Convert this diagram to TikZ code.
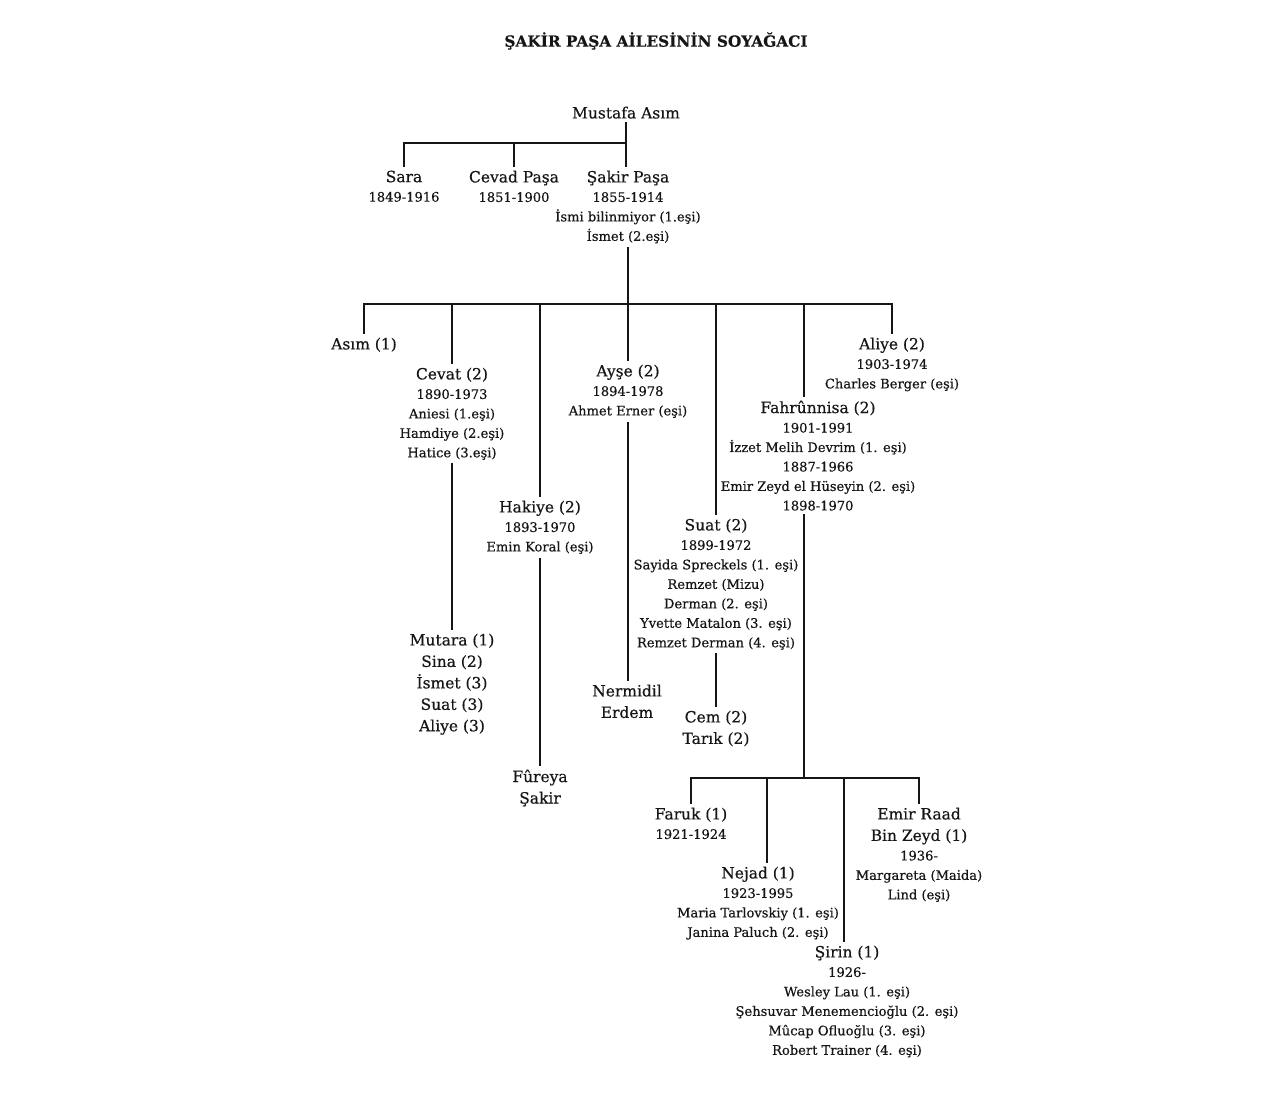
\documentclass[tikz,border=0pt]{standalone}
\usepackage{fontspec}
\setmainfont{DejaVu Serif}[FakeBold=0.5]
\definecolor{ink}{RGB}{22,22,22}
\newcommand{\smallfont}{\fontsize{9.8}{14.6}\selectfont}
\newcommand{\namefont}{\fontsize{11.6}{16.1}\selectfont}
\newcommand{\nm}[1]{{\namefont #1}}
\tikzset{soy/.style={x=0.75pt,y=-0.75pt,line width=1.5pt,draw=ink,text=ink},
  person/.style={anchor=north,align=center,inner sep=2pt,font=\smallfont},
  names/.style={person,font=\namefont}}

\begin{document}
\begin{tikzpicture}[soy]
  \useasboundingbox (0,0) rectangle (1280,1095);
  \node[font=\bfseries\fontsize{11.5}{14}\selectfont] (title) at (656,41) {ŞAKİR PAŞA AİLESİNİN SOYAĞACI};
  % Mustafa Asim and children
  \node[person] (mustafa) at (626,103) {\nm{Mustafa Asım}};
  \node[person] (sara) at (404,167) {\nm{Sara}\\1849-1916};
  \node[person] (cevad) at (514,167) {\nm{Cevad Paşa}\\1851-1900};
  \node[person] (sakir) at (628,167) {\nm{Şakir Paşa}\\1855-1914\\İsmi bilinmiyor (1.eşi)\\İsmet (2.eşi)};
  \coordinate (barM) at (627,143);
  \draw (mustafa.south) -- (mustafa.south |- sakir.north);
  \draw (sara.north) |- (barM);
  \draw (cevad.north) -- (cevad.north |- barM);
  % Sakir Pasa's children
  \node[person] (asim) at (364,334) {\nm{Asım (1)}};
  \node[person] (cevat) at (452,364) {\nm{Cevat (2)}\\1890-1973\\Aniesi (1.eşi)\\Hamdiye (2.eşi)\\Hatice (3.eşi)};
  \node[person] (hakiye) at (540,497) {\nm{Hakiye (2)}\\1893-1970\\Emin Koral (eşi)};
  \node[person] (ayse) at (628,361) {\nm{Ayşe (2)}\\1894-1978\\Ahmet Erner (eşi)};
  \node[person] (suat) at (716,515) {\nm{Suat (2)}\\1899-1972\\Sayida Spreckels (1. eşi)\\Remzet (Mizu)\\Derman (2. eşi)\\Yvette Matalon (3. eşi)\\Remzet Derman (4. eşi)};
  \node[person] (fahr) at (818,397) {\nm{Fahrûnnisa (2)}\\1901-1991\\İzzet Melih Devrim (1. eşi)\\1887-1966\\Emir Zeyd el Hüseyin (2. eşi)\\1898-1970};
  \node[person] (aliye) at (892,334) {\nm{Aliye (2)}\\1903-1974\\Charles Berger (eşi)};
  \coordinate (barS) at (628,304);
  \coordinate (fahrx) at (804,304);
  \draw (sakir.south) -- (barS);
  \draw (asim.north) |- (aliye.north |- barS) -- (aliye.north);
  \foreach \c in {cevat,hakiye,ayse,suat} \draw (\c.north) -- (\c.north |- barS);
  \draw (fahrx) -- (fahrx |- fahr.north);
  % grandchildren
  \node[names] (mutara) at (452,630) {Mutara (1)\\Sina (2)\\İsmet (3)\\Suat (3)\\Aliye (3)};
  \node[names] (nermidil) at (627,681) {Nermidil\\Erdem};
  \node[names] (fureya) at (540,766) {Fûreya\\Şakir};
  \node[names] (cem) at (716,707) {Cem (2)\\Tarık (2)};
  \draw (cevat.south) -- (mutara.north);
  \draw (ayse.south) -- (ayse.south |- nermidil.north);
  \draw (hakiye.south) -- (fureya.north);
  \draw (suat.south) -- (cem.north);
  % Fahrunnisa's children
  \node[person] (faruk) at (691,804) {\nm{Faruk (1)}\\1921-1924};
  \node[person] (nejad) at (758,863) {\nm{Nejad (1)}\\1923-1995\\Maria Tarlovskiy (1. eşi)\\Janina Paluch (2. eşi)};
  \node[person] (emir) at (919,804) {\nm{Emir Raad}\\[1.5pt]\nm{Bin Zeyd (1)}\\1936-\\Margareta (Maida)\\Lind (eşi)};
  \node[person] (sirin) at (847,942) {\nm{Şirin (1)}\\1926-\\Wesley Lau (1. eşi)\\Şehsuvar Menemencioğlu (2. eşi)\\Mûcap Ofluoğlu (3. eşi)\\Robert Trainer (4. eşi)};
  \coordinate (barF) at (804,778);
  \coordinate (nejx) at (767,778);
  \coordinate (sirx) at (844,778);
  \draw (fahrx |- fahr.south) -- (barF);
  \draw (faruk.north) |- (barF -| emir.north) -- (emir.north);
  \draw (nejx) -- (nejx |- nejad.north);
  \draw (sirx) -- (sirx |- sirin.north);
\end{tikzpicture}
\end{document}
